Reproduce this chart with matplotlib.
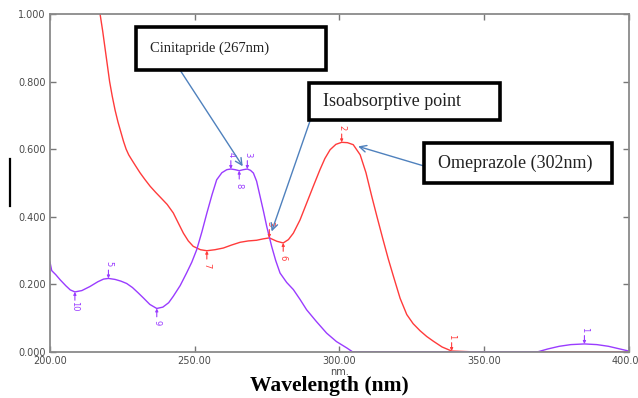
import numpy as np
import matplotlib
matplotlib.use("Agg")
import matplotlib.pyplot as plt
from matplotlib.patches import Rectangle
from matplotlib.lines import Line2D

# Omeprazole spectrum (red)
ome_x = [217.3, 218.2, 219, 219.8, 220.6, 221.5, 222.5, 223.5, 224.5, 225.4, 226.3, 227.2,
         228.2, 229.6, 231.1, 232.8, 234.6, 236.5, 238.4, 240.5, 242.6, 244.4, 246.1, 247.8,
         249.5, 252, 254.2, 257, 259.9, 262.8, 265.7, 268.5, 271.4, 273.6, 275.8, 278.4,
         280.6, 282.4, 284.1, 286.4, 288.7, 291, 293.3, 295, 296.8, 298.8, 300.8, 302.8,
         304.8, 307.2, 309.2, 311.2, 313, 315, 316.9, 318.7, 321, 323.3, 325.5, 327.9,
         330.2, 332.5, 335.5, 338.8, 345, 400]
ome_y = [1.0, 0.95, 0.9, 0.85, 0.8, 0.757, 0.715, 0.68, 0.65, 0.623, 0.6, 0.583,
         0.569, 0.55, 0.53, 0.51, 0.49, 0.472, 0.455, 0.436, 0.411, 0.38, 0.351, 0.328,
         0.312, 0.302, 0.299, 0.302, 0.307, 0.316, 0.324, 0.328, 0.33, 0.334, 0.337, 0.327,
         0.322, 0.332, 0.351, 0.39, 0.44, 0.49, 0.539, 0.572, 0.598, 0.614, 0.62, 0.619,
         0.613, 0.583, 0.53, 0.46, 0.4, 0.335, 0.275, 0.223, 0.158, 0.11, 0.083, 0.062,
         0.045, 0.031, 0.014, 0.002, 0.0, 0.0]

# Cinitapride spectrum (purple)
cin_x = [200, 200.6, 202, 203.5, 205.5, 207, 208.6, 211, 213.8, 216.5, 218.5, 220.2,
         222.5, 224.5, 226.5, 228.5, 230.5, 232.3, 234.5, 236.9, 239, 241, 242.6, 245,
         247.2, 249, 250.7, 252.5, 254.2, 256, 257.6, 259.4, 261.1, 262.5, 264, 265.4,
         266.8, 268.2, 269.3, 270.3, 271.4, 272.6, 273.8, 274.9, 276.6, 278, 279.5, 281.8,
         284.1, 286.4, 288.7, 292, 295.6, 299, 302.6, 304.5, 368.7, 372, 376, 380,
         384.7, 389, 393, 397, 400]
cin_y = [0.265, 0.24, 0.228, 0.213, 0.195, 0.183, 0.177, 0.181, 0.193, 0.207, 0.215, 0.217,
         0.214, 0.209, 0.202, 0.19, 0.174, 0.159, 0.14, 0.128, 0.132, 0.145, 0.164, 0.196,
         0.233, 0.265, 0.302, 0.355, 0.41, 0.465, 0.509, 0.53, 0.539, 0.541, 0.539, 0.536,
         0.539, 0.541, 0.537, 0.529, 0.505, 0.46, 0.415, 0.371, 0.312, 0.27, 0.233, 0.205,
         0.184, 0.155, 0.124, 0.09, 0.055, 0.03, 0.011, 0.0, 0.0, 0.008, 0.016, 0.021,
         0.023, 0.021, 0.016, 0.008, 0.002]

# peak / valley picks: (wavelength, label, is_peak)
cin_picks = [(208.6, "10", False), (220.2, "5", True), (236.9, "9", False),
             (262.5, "4", True), (265.4, "8", False), (268.2, "3", True), (384.7, "1", True)]
ome_picks = [(254.2, "7", False), (275.8, "3", True), (280.6, "6", False),
             (300.8, "2", True), (338.8, "1", True)]

red = "#ff3b3b"
purple = "#9a3cff"
arrow_blue = "#4f81bd"
W, H = 638, 398

fig = plt.figure(figsize=(W / 100, H / 100), dpi=100)
ax = fig.add_axes([50 / W, 1 - 351.7 / H, 578.7 / W, 337.7 / H])

ax.plot(ome_x, ome_y, color=red, lw=1.0)
ax.plot(cin_x, cin_y, color=purple, lw=1.0)


def picks(px, py, plist, color):
    for x, lab, peak in plist:
        y = np.interp(x, px, py)
        s = 1 if peak else -1
        ax.annotate("", xy=(x, y), xytext=(0, 6 * s), textcoords="offset points",
                    arrowprops=dict(arrowstyle="-|>", color=color, lw=0.8,
                                    mutation_scale=4, shrinkA=0, shrinkB=0))
        ax.annotate(lab, xy=(x, y), xytext=(0, 10.5 * s), textcoords="offset points",
                    ha="center", va="center", rotation=270, fontsize=6, color=color)


picks(cin_x, cin_y, cin_picks, purple)
picks(ome_x, ome_y, ome_picks, red)

ax.set_xlim(200, 400)
ax.set_ylim(0, 1)
ax.set_xticks([200, 250, 300, 350, 400])
ax.set_xticklabels(["200.00", "250.00", "300.00", "350.00", "400.00"])
ax.set_yticks([0, 0.2, 0.4, 0.6, 0.8, 1.0])
ax.set_yticklabels(["0.000", "0.200", "0.400", "0.600", "0.800", "1.000"])
ax.tick_params(direction="in", length=4, width=1, color="#777777", labelsize=7,
               labelcolor="#4a4a4a", top=True, right=True, pad=3)
for sp in ax.spines.values():
    sp.set_color("#8a8a8a")
    sp.set_linewidth(1.3)

ax.text(300, -0.045, "nm.", ha="center", va="top", fontsize=7, color="#4a4a4a")
fig.text(329 / W, 1 - 386 / H, "Wavelength (nm)", ha="center", va="center",
         fontsize=15.5, fontweight="bold", family="Liberation Serif")


def fx(px):
    return px / W


def fy(py):
    return 1 - py / H


boxes = [
    ("Cinitapride (267nm)", 136, 27, 326, 70, 10.5, (180, 70), (266.6, 0.549)),
    ("Isoabsorptive point", 309, 83, 500, 120, 13, (310, 121), (276.6, 0.356)),
    ("Omeprazole (302nm)", 424, 143, 612, 183, 13, (424, 166), (306.5, 0.608)),
]
for txt, x0, y0, x1, y1, fs, start, tip in boxes:
    ax.annotate("", xy=tip, xycoords="data",
                xytext=(fx(start[0]), fy(start[1])), textcoords="figure fraction",
                arrowprops=dict(arrowstyle="->", color=arrow_blue, lw=1.0,
                                mutation_scale=12, shrinkA=0, shrinkB=0))
    fig.add_artist(Rectangle((fx(x0), fy(y1)), fx(x1 - x0), (y1 - y0) / H,
                             transform=fig.transFigure, facecolor="white",
                             edgecolor="black", lw=2.6, zorder=5))
    fig.text(fx(x0) + 14 / W, fy((y0 + y1) / 2), txt, ha="left", va="center",
             fontsize=fs, family="Liberation Serif", color="#222222", zorder=6)

fig.add_artist(Line2D([fx(10), fx(10)], [fy(159), fy(206)], color="black", lw=1.6,
                      transform=fig.transFigure))

fig.savefig("out.png", dpi=100)
